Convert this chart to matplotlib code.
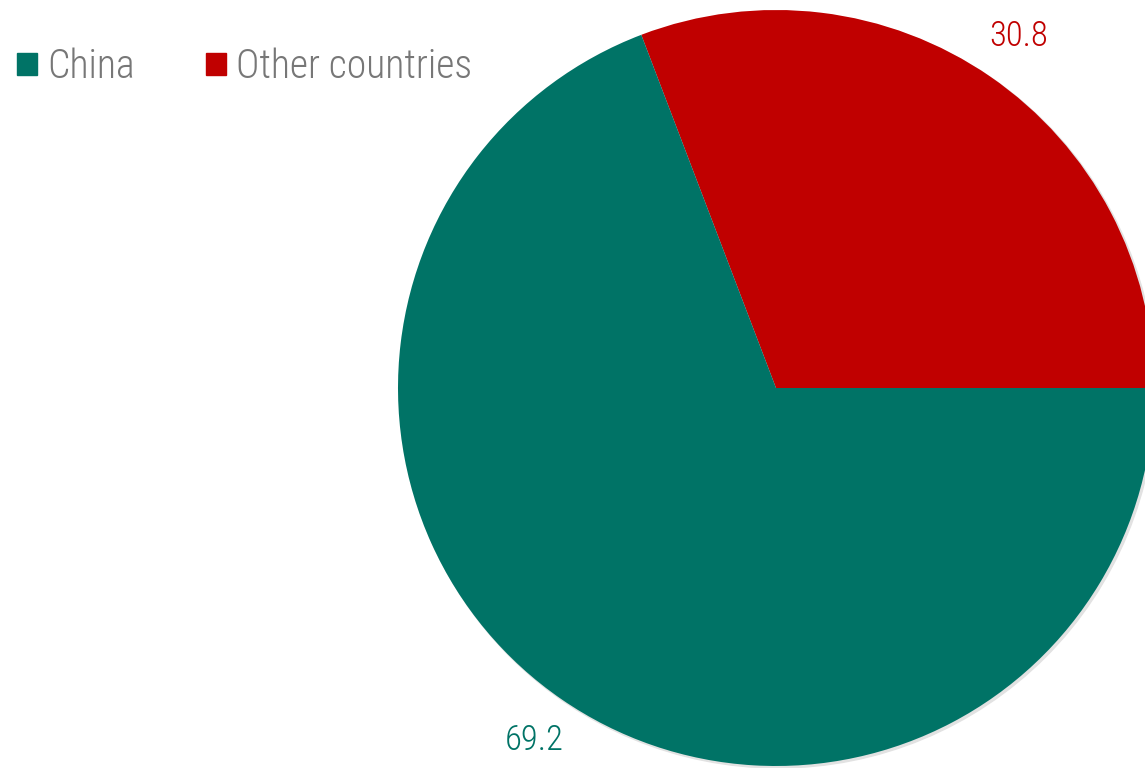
import matplotlib.pyplot as plt
from matplotlib.patches import Patch, Circle

# data
categories = ["Other countries", "China"]
values = [30.8, 69.2]
colors = ["#C00000", "#007366"]
legend_order = ["China", "Other countries"]

plt.rcParams['font.family'] = ['Roboto Condensed', 'Roboto', 'DejaVu Sans']
plt.rcParams['font.weight'] = 'light'

fig = plt.figure(figsize=(11.45, 7.68), dpi=100)
ax = fig.add_axes([0, 0, 1, 1])

cx, cy, r = 776, 380, 378

# soft shadow behind the pie
ax.add_patch(Circle((cx + 2, cy - 2), r, color='#e2e2e2', zorder=0))

wedges, texts = ax.pie(values, labels=[f"{v:.1f}" for v in values],
                       colors=colors, startangle=0, counterclock=True,
                       center=(cx, cy), radius=r, labeldistance=1.13,
                       textprops=dict(fontsize=25, fontweight='light'),
                       frame=True, wedgeprops=dict(linewidth=0))
for t, c in zip(texts, colors):
    t.set_color(c)
    t.set_ha('center')
    t.set_va('center')
ax.set_xlim(0, 1145)
ax.set_ylim(0, 768)
ax.axis('off')

handles = [Patch(color=colors[categories.index(n)]) for n in legend_order]
leg = ax.legend(handles, legend_order, loc='upper left',
                bbox_to_anchor=(-0.009, 0.974), frameon=False, ncol=2,
                prop=dict(size=28.5, weight='light'),
                handlelength=0.5, handleheight=0.5, borderaxespad=0.3,
                handletextpad=0.25, columnspacing=1.8, labelcolor='#777777')

fig.savefig('out.png', dpi=100)
